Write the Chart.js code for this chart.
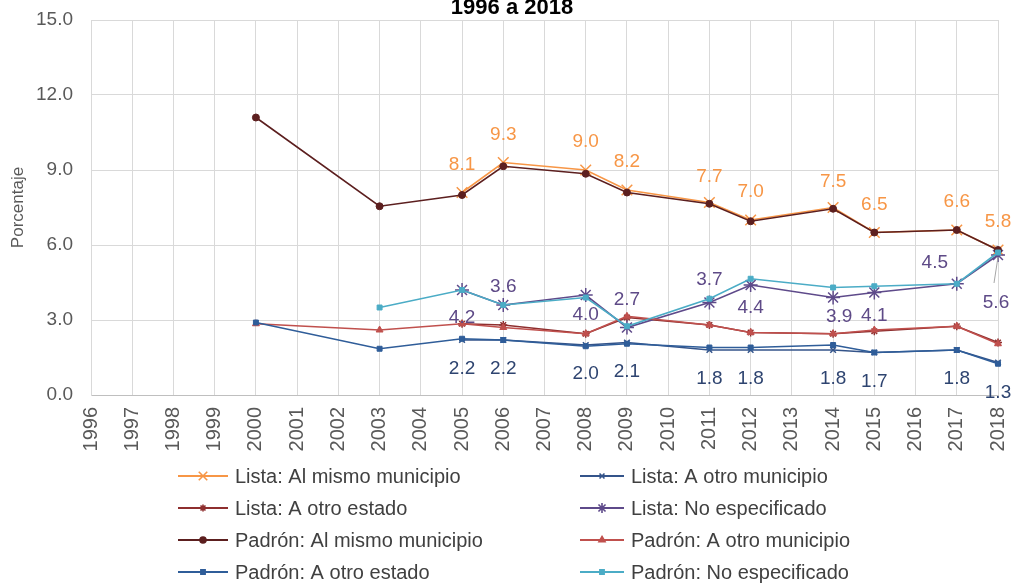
<!DOCTYPE html>
<html lang="es">
<head>
<meta charset="UTF-8">
<title>Porcentaje 1996 a 2018</title>
<script src="https://cdn.jsdelivr.net/npm/chart.js"></script>
<style>
  html, body { margin: 0; padding: 0; background: #fff; }
  #wrap { width: 1013px; height: 585px; }
</style>
</head>
<body>
<div id="wrap"><canvas id="chart" width="1013" height="585"></canvas></div>
<script>
// categorias (años)
const years = ['1996','1997','1998','1999','2000','2001','2002','2003','2004','2005','2006','2007',
               '2008','2009','2010','2011','2012','2013','2014','2015','2016','2017','2018'];
const yTicks = [0, 3, 6, 9, 12, 15];

const seriesNames = [
  'Lista: Al mismo municipio', 'Lista: A otro municipio',
  'Lista: A otro estado', 'Lista: No especificado',
  'Padrón: Al mismo municipio', 'Padrón: A otro municipio',
  'Padrón: A otro estado', 'Padrón: No especificado'
];

const n = null;
const listaMismo      = [n,n,n,n,n,n,n,n,n,8.1,9.3,n,9.0,8.2,n,7.7,7.0,n,7.5,6.5,n,6.6,5.8];
const listaOtroMun    = [n,n,n,n,n,n,n,n,n,2.2,2.2,n,2.0,2.1,n,1.8,1.8,n,1.8,1.7,n,1.8,1.3];
const listaOtroEdo    = [n,n,n,n,n,n,n,n,n,2.85,2.8,n,2.45,3.1,n,2.8,2.5,n,2.45,2.55,n,2.75,2.1];
const listaNoEsp      = [n,n,n,n,n,n,n,n,n,4.2,3.6,n,4.0,2.7,n,3.7,4.4,n,3.9,4.1,n,4.45,5.6];
const padronMismo     = [n,n,n,n,11.1,n,n,7.55,n,8.0,9.15,n,8.85,8.1,n,7.65,6.95,n,7.45,6.5,n,6.6,5.8];
const padronOtroMun   = [n,n,n,n,2.85,n,n,2.6,n,2.85,2.7,n,2.45,3.15,n,2.8,2.5,n,2.45,2.6,n,2.75,2.05];
const padronOtroEdo   = [n,n,n,n,2.9,n,n,1.85,n,2.25,2.2,n,1.95,2.05,n,1.9,1.9,n,2.0,1.7,n,1.8,1.25];
const padronNoEsp     = [n,n,n,n,n,n,n,3.5,n,4.2,3.6,n,3.9,2.75,n,3.85,4.65,n,4.3,4.35,n,4.45,5.7];

const seriesData = [listaMismo, listaOtroMun, listaOtroEdo, listaNoEsp,
                    padronMismo, padronOtroMun, padronOtroEdo, padronNoEsp];

// estilos
const colors  = ['#F79646', '#34548A', '#8E2F2F', '#5E4A8A', '#5C1F1F', '#C0504D', '#2F5D99', '#4BACC6'];
const markers = ['crossRot', 'crossRot', 'star', 'star', 'circle', 'triangle', 'rect', 'rect'];
const radii   = [7.5, 4, 4, 7, 3.5, 4, 3.5, 3.5];
const legendRadii = [6, 3.5, 3.5, 5, 3, 3.5, 3, 3];

// etiquetas de datos: desplazamiento [dx, dy] por punto con valor
const labelStyle = {
  0: { color: '#F79646', offsets: [[0,-28],[0,-28],[0,-28],[0,-28],[0,-26],[0,-28],[0,-26],[0,-28],[0,-28],[0,-28]] },
  1: { color: '#2E4470', offsets: [[0,29],[0,29],[0,29],[0,29],[0,29],[0,29],[0,29],[0,29],[0,29],[0,30]] },
  3: { color: '#5E4A87', offsets: [[0,28],[0,-18],[0,20],[0,-28],[0,-23],[0,23],[6,19],[0,23],[-22,-21],[-2,48]], leader: 9 }
};

const FONT = '"Liberation Sans", Arial, sans-serif';

const datasets = seriesData.map((d, i) => ({
  label: seriesNames[i],
  data: d,
  borderColor: colors[i],
  backgroundColor: colors[i],
  borderWidth: 1.6,
  pointStyle: markers[i],
  pointRadius: radii[i],
  pointBorderWidth: (markers[i] === 'crossRot' || markers[i] === 'star') ? 1.5 : 1,
  pointHoverRadius: radii[i],
  spanGaps: true,
  tension: 0,
  order: 8 - i
}));

const labelPlugin = {
  id: 'labels',
  afterDatasetsDraw(chart) {
    const ctx = chart.ctx;
    ctx.save();
    ctx.font = '19px ' + FONT;
    ctx.textAlign = 'center';
    ctx.textBaseline = 'middle';
    Object.keys(labelStyle).forEach(k => {
      const idx = +k;
      const st = labelStyle[idx];
      const meta = chart.getDatasetMeta(idx);
      let j = 0;
      seriesData[idx].forEach((v, p) => {
        if (v === null) return;
        const pt = meta.data[p];
        const off = st.offsets[j] || [0, -28];
        const x = pt.x + off[0], y = pt.y + off[1];
        if (st.leader === j) {
          ctx.strokeStyle = '#A6A6A6';
          ctx.lineWidth = 1;
          ctx.beginPath();
          ctx.moveTo(x - 2, y - 20);
          ctx.lineTo(pt.x, pt.y + 2);
          ctx.stroke();
        }
        ctx.fillStyle = st.color;
        ctx.fillText(v.toFixed(1), x, y);
        j++;
      });
    });
    ctx.restore();
  }
};

const titlePlugin = {
  id: 'topTitle',
  afterDraw(chart) {
    const ctx = chart.ctx;
    ctx.save();
    ctx.font = 'bold 22px ' + FONT;
    ctx.fillStyle = '#000';
    ctx.textAlign = 'center';
    ctx.textBaseline = 'alphabetic';
    ctx.fillText('1996 a 2018', 512, 14);
    ctx.restore();
  }
};

const legendPlugin = {
  id: 'gridLegend',
  afterDraw(chart) {
    const ctx = chart.ctx;
    const cols = [{ x0: 178, x1: 228, tx: 235 }, { x0: 580, x1: 624, tx: 631 }];
    const rows = [476, 508, 540, 572];
    ctx.save();
    ctx.font = '20px ' + FONT;
    ctx.textBaseline = 'middle';
    ctx.textAlign = 'left';
    seriesNames.forEach((name, i) => {
      const c = cols[i % 2], y = rows[Math.floor(i / 2)];
      ctx.strokeStyle = colors[i];
      ctx.fillStyle = colors[i];
      ctx.lineWidth = 2;
      ctx.beginPath();
      ctx.moveTo(c.x0, y);
      ctx.lineTo(c.x1, y);
      ctx.stroke();
      ctx.lineWidth = 1.6;
      Chart.helpers.drawPoint(ctx, {
        pointStyle: markers[i], radius: legendRadii[i], rotation: 0, borderWidth: 1.6
      }, (c.x0 + c.x1) / 2, y);
      ctx.fillStyle = '#404040';
      ctx.fillText(name, c.tx, y + 1);
    });
    ctx.restore();
  }
};

new Chart(document.getElementById('chart'), {
  type: 'line',
  data: { labels: years, datasets: datasets },
  options: {
    responsive: false,
    animation: false,
    layout: { padding: { top: 20, right: 15, bottom: 125, left: 8 } },
    plugins: {
      legend: { display: false },
      title: { display: false },
      tooltip: { enabled: false }
    },
    scales: {
      x: {
        offset: false,
        grid: { color: '#D9D9D9', drawTicks: false },
        border: { color: '#BFBFBF' },
        ticks: {
          color: '#595959',
          font: { family: FONT, size: 20 },
          maxRotation: 90, minRotation: 90,
          padding: 12,
          autoSkip: false
        },
        afterFit(scale) { scale.height = 65; scale.paddingRight = 0; }
      },
      y: {
        min: 0, max: 15,
        afterBuildTicks(scale) { scale.ticks = yTicks.map(v => ({ value: v })); },
        grid: { color: '#D9D9D9', drawTicks: false },
        border: { color: '#D9D9D9' },
        ticks: {
          color: '#595959',
          font: { family: FONT, size: 19 },
          padding: 18,
          callback: v => Number(v).toFixed(1)
        },
        title: {
          display: true, text: 'Porcentaje', color: '#595959',
          font: { family: FONT, size: 17 }, padding: { top: 0, bottom: 0 }
        },
        afterFit(scale) { scale.width = 83; scale.paddingTop = 0; }
      }
    }
  },
  plugins: [labelPlugin, titlePlugin, legendPlugin]
});
</script>
</body>
</html>
